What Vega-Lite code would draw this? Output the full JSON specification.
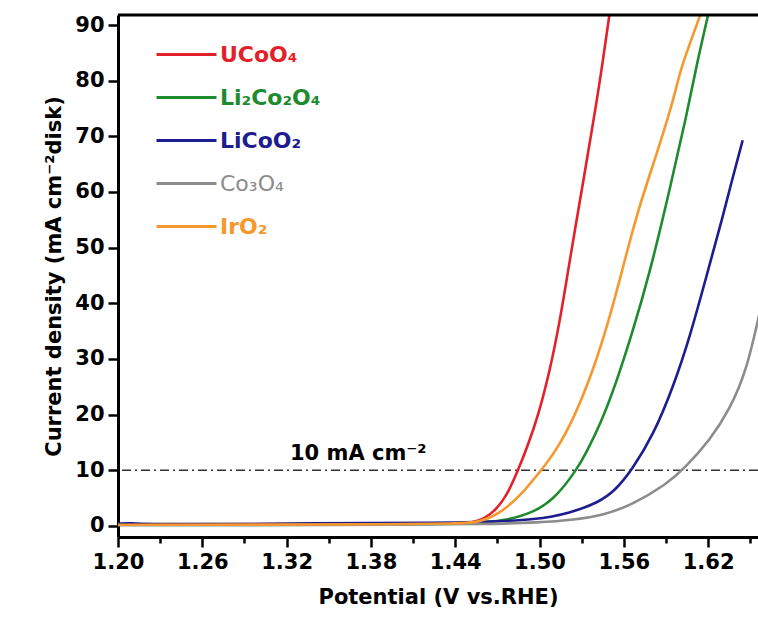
{
  "$schema": "https://vega.github.io/schema/vega-lite/v6.json",
  "width": 640,
  "height": 522,
  "autosize": "none",
  "padding": {"left": 118, "top": 15, "right": 0, "bottom": 88},
  "background": "white",
  "config": {
    "view": {"stroke": null},
    "font": "DejaVu Sans",
    "axis": {
      "grid": false,
      "domainColor": "black",
      "domainWidth": 3,
      "tickColor": "black",
      "labelFont": "DejaVu Sans",
      "labelFontWeight": "bold",
      "labelFontSize": 21,
      "labelColor": "black",
      "titleFont": "DejaVu Sans",
      "titleFontWeight": "bold",
      "titleFontSize": 21,
      "titleColor": "black"
    }
  },
  "datasets": {
    "curves": [
      {"m": "UCoO₄", "V": 1.20, "J": 0.3},
      {"m": "UCoO₄", "V": 1.30, "J": 0.3},
      {"m": "UCoO₄", "V": 1.40, "J": 0.4},
      {"m": "UCoO₄", "V": 1.44, "J": 0.4},
      {"m": "UCoO₄", "V": 1.4553, "J": 0.6},
      {"m": "UCoO₄", "V": 1.4671, "J": 2.3},
      {"m": "UCoO₄", "V": 1.4766, "J": 5.3},
      {"m": "UCoO₄", "V": 1.4849, "J": 10.1},
      {"m": "UCoO₄", "V": 1.4909, "J": 13.9},
      {"m": "UCoO₄", "V": 1.4991, "J": 19.8},
      {"m": "UCoO₄", "V": 1.5075, "J": 28.0},
      {"m": "UCoO₄", "V": 1.5146, "J": 37.0},
      {"m": "UCoO₄", "V": 1.5200, "J": 45.3},
      {"m": "UCoO₄", "V": 1.5252, "J": 53.2},
      {"m": "UCoO₄", "V": 1.5312, "J": 62.0},
      {"m": "UCoO₄", "V": 1.5371, "J": 70.9},
      {"m": "UCoO₄", "V": 1.5430, "J": 79.8},
      {"m": "UCoO₄", "V": 1.5497, "J": 91.8},
      {"m": "UCoO₄", "V": 1.5510, "J": 94.0},
      {"m": "Li₂Co₂O₄", "V": 1.20, "J": 0.2},
      {"m": "Li₂Co₂O₄", "V": 1.30, "J": 0.2},
      {"m": "Li₂Co₂O₄", "V": 1.40, "J": 0.3},
      {"m": "Li₂Co₂O₄", "V": 1.45, "J": 0.4},
      {"m": "Li₂Co₂O₄", "V": 1.4742, "J": 0.8},
      {"m": "Li₂Co₂O₄", "V": 1.4980, "J": 2.6},
      {"m": "Li₂Co₂O₄", "V": 1.5122, "J": 5.3},
      {"m": "Li₂Co₂O₄", "V": 1.5265, "J": 10.1},
      {"m": "Li₂Co₂O₄", "V": 1.5336, "J": 13.3},
      {"m": "Li₂Co₂O₄", "V": 1.5440, "J": 18.7},
      {"m": "Li₂Co₂O₄", "V": 1.5540, "J": 25.3},
      {"m": "Li₂Co₂O₄", "V": 1.5656, "J": 34.3},
      {"m": "Li₂Co₂O₄", "V": 1.5786, "J": 45.5},
      {"m": "Li₂Co₂O₄", "V": 1.5929, "J": 60.7},
      {"m": "Li₂Co₂O₄", "V": 1.6047, "J": 73.8},
      {"m": "Li₂Co₂O₄", "V": 1.6118, "J": 82.8},
      {"m": "Li₂Co₂O₄", "V": 1.6194, "J": 91.2},
      {"m": "Li₂Co₂O₄", "V": 1.6220, "J": 94.0},
      {"m": "LiCoO₂", "V": 1.20, "J": 0.4},
      {"m": "LiCoO₂", "V": 1.21, "J": 0.5},
      {"m": "LiCoO₂", "V": 1.22, "J": 0.3},
      {"m": "LiCoO₂", "V": 1.30, "J": 0.3},
      {"m": "LiCoO₂", "V": 1.34, "J": 0.5},
      {"m": "LiCoO₂", "V": 1.38, "J": 0.5},
      {"m": "LiCoO₂", "V": 1.42, "J": 0.5},
      {"m": "LiCoO₂", "V": 1.46, "J": 0.7},
      {"m": "LiCoO₂", "V": 1.4980, "J": 1.1},
      {"m": "LiCoO₂", "V": 1.5217, "J": 2.3},
      {"m": "LiCoO₂", "V": 1.5420, "J": 4.2},
      {"m": "LiCoO₂", "V": 1.5540, "J": 6.4},
      {"m": "LiCoO₂", "V": 1.5656, "J": 10.0},
      {"m": "LiCoO₂", "V": 1.5810, "J": 16.3},
      {"m": "LiCoO₂", "V": 1.5952, "J": 25.0},
      {"m": "LiCoO₂", "V": 1.6071, "J": 34.0},
      {"m": "LiCoO₂", "V": 1.6195, "J": 45.5},
      {"m": "LiCoO₂", "V": 1.6308, "J": 55.9},
      {"m": "LiCoO₂", "V": 1.6379, "J": 63.0},
      {"m": "LiCoO₂", "V": 1.6446, "J": 69.3},
      {"m": "Co₃O₄", "V": 1.20, "J": 0.1},
      {"m": "Co₃O₄", "V": 1.30, "J": 0.1},
      {"m": "Co₃O₄", "V": 1.40, "J": 0.2},
      {"m": "Co₃O₄", "V": 1.46, "J": 0.3},
      {"m": "Co₃O₄", "V": 1.5000, "J": 0.6},
      {"m": "Co₃O₄", "V": 1.5250, "J": 1.1},
      {"m": "Co₃O₄", "V": 1.5454, "J": 1.9},
      {"m": "Co₃O₄", "V": 1.5660, "J": 3.8},
      {"m": "Co₃O₄", "V": 1.5905, "J": 7.5},
      {"m": "Co₃O₄", "V": 1.6030, "J": 10.3},
      {"m": "Co₃O₄", "V": 1.6213, "J": 15.4},
      {"m": "Co₃O₄", "V": 1.6356, "J": 21.0},
      {"m": "Co₃O₄", "V": 1.6474, "J": 28.0},
      {"m": "Co₃O₄", "V": 1.6555, "J": 37.0},
      {"m": "Co₃O₄", "V": 1.6600, "J": 42.0},
      {"m": "IrO₂", "V": 1.20, "J": 0.2},
      {"m": "IrO₂", "V": 1.30, "J": 0.2},
      {"m": "IrO₂", "V": 1.40, "J": 0.3},
      {"m": "IrO₂", "V": 1.44, "J": 0.4},
      {"m": "IrO₂", "V": 1.4576, "J": 0.6},
      {"m": "IrO₂", "V": 1.4719, "J": 2.3},
      {"m": "IrO₂", "V": 1.4861, "J": 5.3},
      {"m": "IrO₂", "V": 1.5015, "J": 10.1},
      {"m": "IrO₂", "V": 1.5110, "J": 13.2},
      {"m": "IrO₂", "V": 1.5240, "J": 19.0},
      {"m": "IrO₂", "V": 1.5383, "J": 28.0},
      {"m": "IrO₂", "V": 1.5495, "J": 37.0},
      {"m": "IrO₂", "V": 1.5590, "J": 46.0},
      {"m": "IrO₂", "V": 1.5691, "J": 56.0},
      {"m": "IrO₂", "V": 1.5830, "J": 66.5},
      {"m": "IrO₂", "V": 1.5960, "J": 77.0},
      {"m": "IrO₂", "V": 1.6000, "J": 82.0},
      {"m": "IrO₂", "V": 1.6142, "J": 91.5},
      {"m": "IrO₂", "V": 1.6170, "J": 94.0}
    ],
    "one": [{"label": "10 mA cm⁻²"}]
  },
  "layer": [
    {
      "data": {"name": "one"},
      "mark": {"type": "rule", "color": "#333333", "strokeWidth": 1.6, "strokeDash": [9, 4, 2, 4]},
      "encoding": {"y": {"datum": 10, "type": "quantitative"}}
    },
    {
      "data": {"name": "one"},
      "mark": {"type": "text", "align": "left", "baseline": "alphabetic", "font": "DejaVu Sans", "fontWeight": "bold", "fontSize": 21, "color": "black"},
      "encoding": {
        "text": {"field": "label"},
        "x": {"datum": 1.3224, "type": "quantitative"},
        "y": {"datum": 11.9, "type": "quantitative"}
      }
    },
    {
      "data": {"name": "curves"},
      "mark": {"type": "line", "strokeWidth": 2.6, "clip": true, "interpolate": "basis"},
      "encoding": {
        "x": {
          "field": "V", "type": "quantitative",
          "scale": {"domain": [1.2, 1.6555], "nice": false, "zero": false},
          "axis": {
            "title": "Potential (V vs.RHE)",
            "values": [1.20, 1.23, 1.26, 1.29, 1.32, 1.35, 1.38, 1.41, 1.44, 1.47, 1.50, 1.53, 1.56, 1.59, 1.62, 1.65],
            "labelExpr": "round(datum.value*100) % 6 === 0 ? format(datum.value, '.2f') : ''",
            "tickSize": {"condition": {"test": "round(datum.value*100) % 6 === 0", "value": 10}, "value": 6},
            "tickWidth": 2.5,
            "labelPadding": 4,
            "titlePadding": 14,
            "labelFlush": false,
            "labelOverlap": false
          }
        },
        "y": {
          "field": "J", "type": "quantitative",
          "scale": {"domain": [-2, 91.8], "nice": false, "zero": false},
          "axis": {
            "title": "Current density (mA cm⁻²disk)",
            "values": [0, 5, 10, 15, 20, 25, 30, 35, 40, 45, 50, 55, 60, 65, 70, 75, 80, 85, 90],
            "labelExpr": "datum.value % 10 === 0 ? datum.label : ''",
            "tickSize": {"condition": {"test": "datum.value % 10 === 0", "value": 10}, "value": 6},
            "tickWidth": 2.5,
            "labelPadding": 4,
            "titlePadding": 10,
            "labelFlush": false,
            "labelOverlap": false
          }
        },
        "color": {
          "field": "m", "type": "nominal",
          "scale": {
            "domain": ["UCoO₄", "Li₂Co₂O₄", "LiCoO₂", "Co₃O₄", "IrO₂"],
            "range": ["#e3212b", "#1f8b2f", "#1d1d8f", "#8c8c8c", "#f5982f"]
          },
          "legend": {
            "title": null,
            "orient": "none",
            "legendX": 37,
            "legendY": 8,
            "padding": 0,
            "symbolType": "stroke",
            "symbolSize": 3600,
            "symbolStrokeWidth": 3,
            "labelFont": "DejaVu Sans",
            "labelFontSize": 22,
            "labelFontWeight": "bold",
            "labelOffset": 2,
            "rowPadding": -30,
            "encode": {
              "labels": {
                "update": {
                  "fill": {"signal": "scale('color', datum.value)"},
                  "fontWeight": {"signal": "datum.value === 'Co₃O₄' ? 'normal' : 'bold'"}
                }
              }
            }
          }
        }
      }
    },
    {
      "data": {"name": "one"},
      "mark": {"type": "rule", "color": "black", "strokeWidth": 3},
      "encoding": {"y": {"datum": 91.8, "type": "quantitative"}}
    }
  ]
}
